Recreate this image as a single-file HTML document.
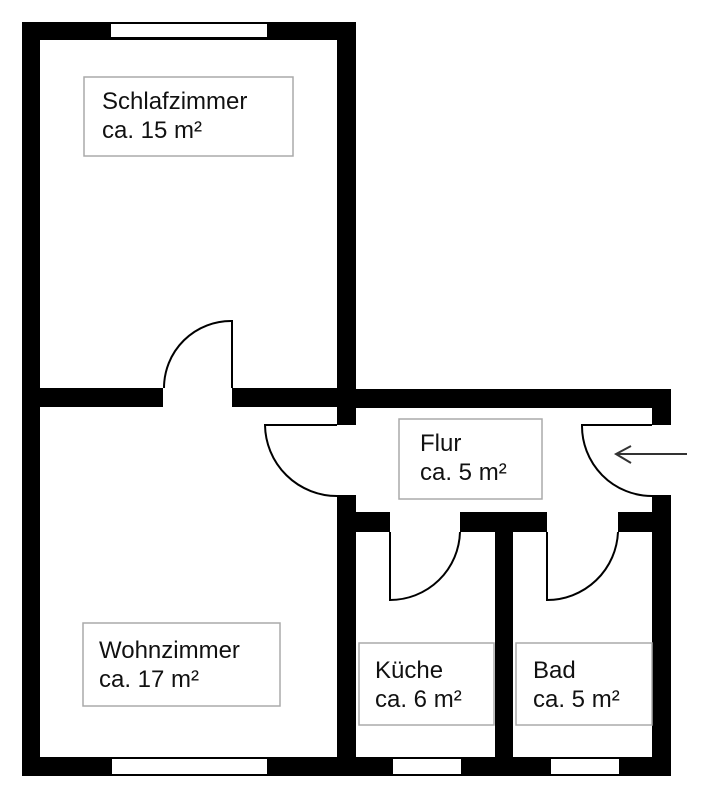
<!DOCTYPE html>
<html><head><meta charset="utf-8"><style>
html,body{margin:0;padding:0;background:#fff;width:710px;height:800px;overflow:hidden}
text{font-family:"Liberation Sans",sans-serif;font-size:24px;fill:#111}
</style></head><body>
<svg width="710" height="800" viewBox="0 0 710 800" xmlns="http://www.w3.org/2000/svg">
<g fill="#000">
<!-- outer left -->
<rect x="22" y="22" width="18" height="754"/>
<!-- top -->
<rect x="22" y="22" width="333" height="18"/>
<!-- bedroom right wall -->
<rect x="337" y="22" width="19" height="403"/>
<rect x="337" y="495" width="19" height="281"/>
<!-- middle wall -->
<rect x="22" y="388" width="141" height="19"/>
<rect x="232" y="388" width="124" height="19"/>
<!-- Flur top -->
<rect x="337" y="389" width="334" height="19"/>
<!-- right wall -->
<rect x="652" y="389" width="19" height="36"/>
<rect x="652" y="495" width="19" height="281"/>
<!-- kitchen top wall -->
<rect x="337" y="512" width="53" height="20"/>
<rect x="460" y="512" width="87" height="20"/>
<rect x="618" y="512" width="53" height="20"/>
<!-- divider -->
<rect x="495" y="512" width="18" height="264"/>
<!-- bottom -->
<rect x="22" y="757" width="649" height="19"/>
</g>
<!-- windows -->
<g fill="#fff" stroke="#000" stroke-width="1">
<rect x="110.5" y="23.5" width="157" height="14"/>
<rect x="111.5" y="758.5" width="156" height="16"/>
<rect x="392.5" y="758.5" width="69" height="16"/>
<rect x="550.5" y="758.5" width="69" height="16"/>
</g>
<!-- doors -->
<g fill="none" stroke="#000" stroke-width="2">
<path d="M232,388 L232,321 A67,67 0 0 0 164,388"/>
<path d="M337,425 L265,425 A72,72 0 0 0 337,496"/>
<path d="M652,425 L582,425 A70,70 0 0 0 652,496"/>
<path d="M390,532 L390,600 A70,70 0 0 0 460,532"/>
<path d="M547,532 L547,600 A71,71 0 0 0 618,532"/>
</g>
<!-- arrow -->
<g fill="none" stroke="#333" stroke-width="2">
<path d="M687,454 L616,454 M631,446 L616,454 L631,463"/>
</g>
<!-- labels -->
<g fill="#fff" stroke="#aaa" stroke-width="1.5">
<rect x="84" y="77" width="209" height="79"/>
<rect x="399" y="419" width="143" height="80"/>
<rect x="83" y="623" width="197" height="83"/>
<rect x="359" y="643" width="135" height="82"/>
<rect x="516" y="643" width="136" height="82"/>
</g>
<text x="102" y="109">Schlafzimmer</text>
<text x="102" y="138">ca. 15 m²</text>
<text x="420" y="451">Flur</text>
<text x="420" y="480">ca. 5 m²</text>
<text x="99" y="658">Wohnzimmer</text>
<text x="99" y="687">ca. 17 m²</text>
<text x="375" y="678">Küche</text>
<text x="375" y="707">ca. 6 m²</text>
<text x="533" y="678">Bad</text>
<text x="533" y="707">ca. 5 m²</text>
</svg>
</body></html>
